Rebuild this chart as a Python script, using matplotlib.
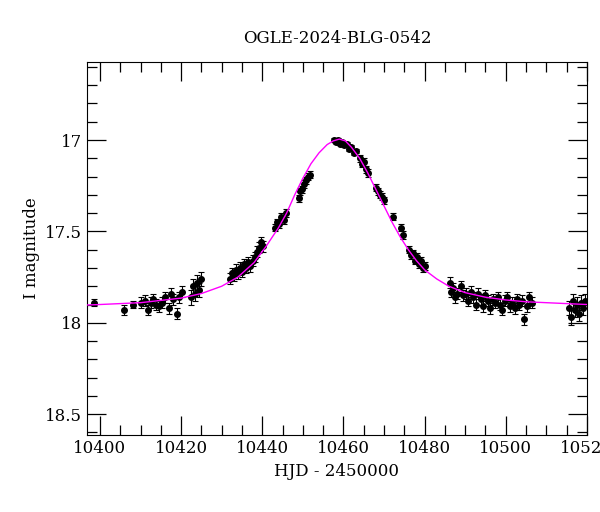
import matplotlib
matplotlib.use("Agg")
import matplotlib.pyplot as plt
from matplotlib.ticker import MultipleLocator

# observed photometry: HJD-2450000, I mag, error
hjd = [10396.0, 10398.5, 10406.0, 10408.2, 10410.1, 10411.0, 10411.8, 10412.5, 10413.1, 10413.9,
       10414.6, 10415.2, 10416.0, 10416.9, 10417.5, 10418.1, 10418.9, 10419.6, 10420.2,
       10422.4, 10422.9, 10423.3, 10423.8, 10424.3, 10424.8,
       10432.1, 10432.6, 10433.0, 10433.5, 10434.0, 10434.5, 10435.0, 10435.5, 10436.0, 10436.6,
       10437.1, 10437.6, 10438.2, 10438.7, 10439.2, 10439.8, 10440.3,
       10443.2, 10443.7, 10444.2, 10444.7, 10445.3, 10445.8,
       10449.0, 10449.4, 10449.9, 10450.3, 10450.8, 10451.2, 10451.7,
       10457.8, 10458.2, 10458.7, 10459.2, 10459.7, 10460.2, 10460.8, 10461.3, 10461.9, 10462.5,
       10463.0, 10464.1, 10464.6, 10465.1, 10465.6, 10466.1,
       10468.0, 10468.5, 10469.0, 10469.5, 10470.0, 10472.3, 10474.2, 10474.6,
       10476.2, 10476.7, 10477.2, 10477.7, 10478.2, 10478.7, 10479.2, 10479.7, 10480.2,
       10486.2, 10486.6, 10487.0, 10487.5, 10488.0,
       10489.0, 10489.6, 10490.2, 10490.8, 10491.4, 10492.0, 10492.6, 10493.2, 10493.8, 10494.4,
       10495.0, 10495.6, 10496.2, 10496.8, 10497.4, 10498.0, 10498.6, 10499.2, 10499.8, 10500.4,
       10501.0, 10501.6, 10502.2, 10502.8, 10503.4, 10504.0, 10504.6, 10505.2, 10505.8, 10506.4,
       10515.6, 10516.0, 10516.5, 10517.0, 10517.5, 10518.0, 10518.5, 10519.0, 10519.5]
mag = [17.93, 17.89, 17.93, 17.90, 17.89, 17.88, 17.93, 17.89, 17.87, 17.90,
       17.91, 17.89, 17.86, 17.92, 17.84, 17.87, 17.95, 17.86, 17.83,
       17.86, 17.80, 17.84, 17.78, 17.82, 17.76,
       17.76, 17.73, 17.74, 17.71, 17.73, 17.70, 17.72, 17.68, 17.70, 17.67,
       17.69, 17.66, 17.64, 17.61, 17.59, 17.56, 17.58,
       17.48, 17.45, 17.46, 17.42, 17.44, 17.40,
       17.32, 17.28, 17.27, 17.24, 17.22, 17.20, 17.19,
       17.00, 17.01, 17.00, 17.02, 17.01, 17.03, 17.02, 17.05, 17.04, 17.07,
       17.06, 17.10, 17.13, 17.12, 17.16, 17.18,
       17.26, 17.28, 17.30, 17.31, 17.33, 17.42, 17.48, 17.52,
       17.60, 17.63, 17.62, 17.66, 17.64, 17.68, 17.66, 17.70, 17.69,
       17.78, 17.83, 17.81, 17.86, 17.84,
       17.80, 17.85, 17.84, 17.88, 17.83, 17.86, 17.90, 17.84, 17.87, 17.91,
       17.85, 17.88, 17.92, 17.87, 17.89, 17.86, 17.90, 17.93, 17.88, 17.86,
       17.91, 17.89, 17.92, 17.87, 17.90, 17.88, 17.98, 17.91, 17.86, 17.89,
       17.92, 17.97, 17.88, 17.93, 17.90, 17.95, 17.89, 17.92, 17.88]
err = [0.02, 0.02, 0.03, 0.02, 0.03, 0.03, 0.03, 0.03, 0.03, 0.03,
       0.03, 0.03, 0.03, 0.03, 0.03, 0.03, 0.03, 0.03, 0.03,
       0.04, 0.04, 0.04, 0.04, 0.04, 0.04,
       0.03, 0.03, 0.03, 0.03, 0.03, 0.03, 0.03, 0.03, 0.03, 0.03,
       0.03, 0.03, 0.03, 0.03, 0.03, 0.03, 0.03,
       0.02, 0.02, 0.02, 0.02, 0.02, 0.02,
       0.02, 0.02, 0.02, 0.02, 0.02, 0.02, 0.02,
       0.01, 0.01, 0.01, 0.01, 0.01, 0.01, 0.01, 0.01, 0.01, 0.01,
       0.01, 0.02, 0.02, 0.02, 0.02, 0.02,
       0.02, 0.02, 0.02, 0.02, 0.02, 0.02, 0.02, 0.02,
       0.02, 0.02, 0.02, 0.02, 0.02, 0.02, 0.02, 0.02, 0.02,
       0.03, 0.03, 0.03, 0.03, 0.03,
       0.03, 0.03, 0.03, 0.03, 0.03, 0.03, 0.03, 0.03, 0.03, 0.03,
       0.03, 0.03, 0.03, 0.03, 0.03, 0.03, 0.03, 0.03, 0.03, 0.03,
       0.03, 0.03, 0.03, 0.03, 0.03, 0.03, 0.03, 0.03, 0.03, 0.03,
       0.04, 0.04, 0.04, 0.04, 0.04, 0.04, 0.04, 0.04, 0.04]

# model curve
model_t = [10394, 10400, 10410, 10420, 10425, 10430, 10434, 10438, 10441, 10444, 10446, 10448,
           10450, 10452, 10454, 10456, 10457.5, 10459, 10460.5, 10462, 10464, 10466, 10468,
           10470, 10472, 10474, 10476, 10478, 10480, 10483, 10486, 10490, 10495, 10500,
           10505, 10510, 10520, 10522]
model_m = [17.905, 17.90, 17.89, 17.865, 17.84, 17.80, 17.75, 17.67, 17.58, 17.48, 17.40, 17.30,
           17.21, 17.13, 17.07, 17.025, 17.005, 16.995, 17.005, 17.04, 17.10, 17.18, 17.27,
           17.36, 17.45, 17.53, 17.60, 17.66, 17.71, 17.76, 17.80, 17.835, 17.86, 17.875,
           17.885, 17.89, 17.90, 17.90]

plt.rcParams["font.family"] = "DejaVu Serif"
fig = plt.figure(figsize=(6.0, 5.12), dpi=100)
ax = fig.add_axes([0.145, 0.15, 0.833, 0.729])

ax.plot(model_t, model_m, color="magenta", lw=1.0, zorder=3)
ax.errorbar(hjd, mag, yerr=err, fmt="o", ms=4, color="black", ecolor="black",
            elinewidth=0.8, capsize=2.5, capthick=0.8, zorder=2)

ax.set_xlim(10396.8, 10520)
ax.set_ylim(18.615, 16.573)
ax.xaxis.set_major_locator(MultipleLocator(20))
ax.xaxis.set_minor_locator(MultipleLocator(5))
ax.yaxis.set_major_locator(MultipleLocator(0.5))
ax.yaxis.set_minor_locator(MultipleLocator(0.1))
ax.yaxis.set_major_formatter(matplotlib.ticker.FuncFormatter(lambda v, _: f"{v:g}"))
ax.tick_params(which="both", direction="in", top=True, right=True, labelsize=12)
ax.tick_params(which="major", length=14, width=0.9)
ax.tick_params(which="minor", length=7, width=0.9)

ax.set_xlabel("HJD - 2450000", fontsize=12)
ax.set_ylabel("I magnitude", fontsize=12)
ax.set_title("OGLE-2024-BLG-0542", fontsize=12, pad=14)

fig.savefig("out.png", dpi=100)
